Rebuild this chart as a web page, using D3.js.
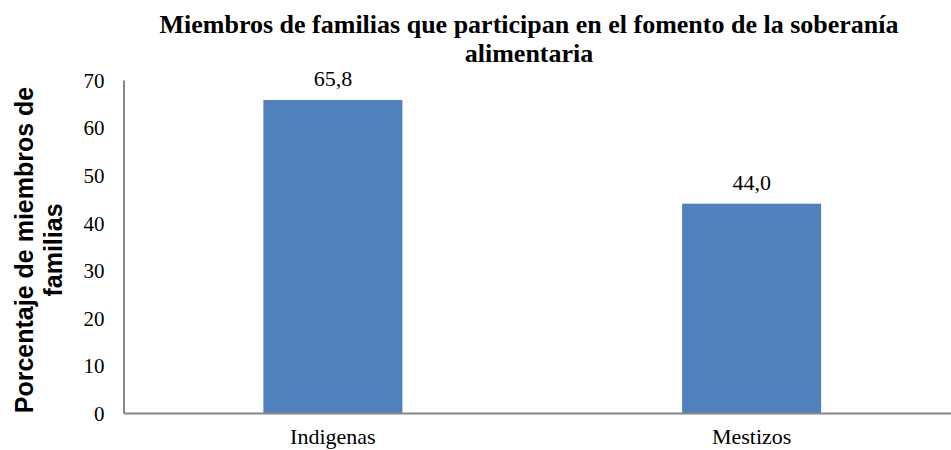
<!DOCTYPE html>
<html>
<head>
<meta charset="utf-8">
<script src="https://cdn.jsdelivr.net/npm/d3@7"></script>
<style>
  body { margin: 0; background: #fff; }
  svg text { fill: #000; }
  .serif { font-family: "Liberation Serif", "Times New Roman", serif; }
  .sans { font-family: "Liberation Sans", Arial, sans-serif; }
</style>
</head>
<body>
<svg id="chart" width="951" height="450"></svg>
<script>
// chart data
const categories = ["Indigenas", "Mestizos"]
const values = [65.8, 44.0]
const yTicks = [0, 10, 20, 30, 40, 50, 60, 70]
const titleLines = ["Miembros de familias que participan en el fomento de la soberanía", "alimentaria"]
const yLabelLines = ["Porcentaje de miembros de", "familias"]

const svg = d3.select("#chart")
const plotLeft = 123.5, plotRight = 961, plotTop = 80, plotBottom = 413

const x = d3.scaleBand().domain(categories).range([plotLeft, plotRight])
const y = d3.scaleLinear().domain([0, 70]).range([plotBottom, plotTop])
const barW = 139

// bars
svg.selectAll("rect.bar")
  .data(values).enter()
  .append("rect")
  .attr("class", "bar")
  .attr("x", (d, i) => x(categories[i]) + x.bandwidth() / 2 - barW / 2)
  .attr("y", d => y(d))
  .attr("width", barW)
  .attr("height", d => y(0) - y(d))
  .attr("fill", "#4f81bd")

// value labels
svg.selectAll("text.val")
  .data(values).enter()
  .append("text")
  .attr("class", "val serif")
  .attr("x", (d, i) => x(categories[i]) + x.bandwidth() / 2)
  .attr("y", d => y(d) - 14)
  .attr("text-anchor", "middle")
  .attr("font-size", 22)
  .text(d => d.toFixed(1).replace(".", ","))

// y axis
const yAxis = svg.append("g")
  .attr("transform", `translate(${plotLeft},0)`)
  .call(d3.axisLeft(y).tickValues(yTicks).tickSize(0).tickPadding(19))
yAxis.attr("font-family", null).attr("font-size", null)
yAxis.select(".domain").attr("stroke", "#868686").attr("stroke-width", 2)
yAxis.selectAll("text").attr("class", "serif").attr("font-size", 21).attr("dy", "0.35em")

// x axis
const xAxis = svg.append("g")
  .attr("transform", `translate(0,${plotBottom})`)
  .call(d3.axisBottom(x).tickSize(0).tickPadding(18))
xAxis.attr("font-family", null).attr("font-size", null)
xAxis.select(".domain").attr("stroke", "#868686").attr("stroke-width", 2)
xAxis.selectAll("text").attr("class", "serif").attr("font-size", 22).attr("y", 31).attr("dy", 0)

// title
svg.append("text")
  .attr("class", "serif")
  .attr("text-anchor", "middle")
  .attr("font-size", 26)
  .attr("font-weight", "bold")
  .selectAll("tspan").data(titleLines).enter()
  .append("tspan")
  .attr("x", 529)
  .attr("y", (d, i) => 33 + i * 29)
  .text(d => d)

// y label
svg.append("text")
  .attr("class", "sans")
  .attr("transform", "translate(33,250) rotate(-90)")
  .attr("text-anchor", "middle")
  .attr("font-size", 25)
  .attr("font-weight", "bold")
  .selectAll("tspan").data(yLabelLines).enter()
  .append("tspan")
  .attr("x", 0)
  .attr("y", (d, i) => i * 29)
  .text(d => d)
</script>
</body>
</html>
